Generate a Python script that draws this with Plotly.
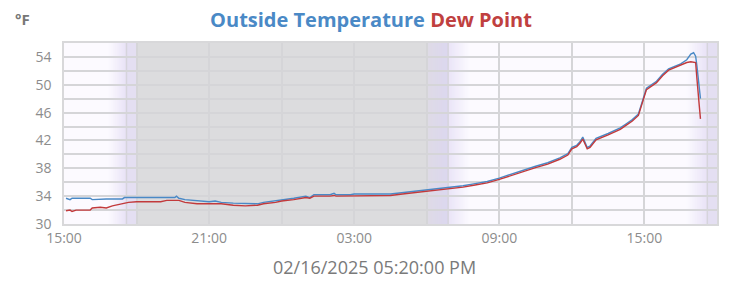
import plotly.graph_objects as go
import pandas as pd

# ---- data ----
times = [
    "2025-02-15 15:05", "2025-02-15 15:15", "2025-02-15 15:20", "2025-02-15 15:30",
    "2025-02-15 16:05", "2025-02-15 16:10", "2025-02-15 16:30", "2025-02-15 16:45",
    "2025-02-15 17:00", "2025-02-15 17:25", "2025-02-15 17:30", "2025-02-15 17:40",
    "2025-02-15 18:00", "2025-02-15 19:00", "2025-02-15 19:15", "2025-02-15 19:35",
    "2025-02-15 19:39", "2025-02-15 19:45", "2025-02-15 20:00", "2025-02-15 20:30",
    "2025-02-15 21:00", "2025-02-15 21:15", "2025-02-15 21:30", "2025-02-15 22:00",
    "2025-02-15 22:30", "2025-02-15 23:00", "2025-02-15 23:15", "2025-02-15 23:45",
    "2025-02-16 00:00", "2025-02-16 00:30", "2025-02-16 01:00", "2025-02-16 01:10",
    "2025-02-16 01:20", "2025-02-16 02:00", "2025-02-16 02:10", "2025-02-16 02:15",
    "2025-02-16 02:50", "2025-02-16 03:00", "2025-02-16 04:30", "2025-02-16 05:00",
    "2025-02-16 05:30", "2025-02-16 06:00", "2025-02-16 06:30", "2025-02-16 07:00",
    "2025-02-16 07:30", "2025-02-16 08:00", "2025-02-16 08:30", "2025-02-16 09:00",
    "2025-02-16 09:30", "2025-02-16 10:00", "2025-02-16 10:30", "2025-02-16 11:00",
    "2025-02-16 11:30", "2025-02-16 11:50", "2025-02-16 12:00", "2025-02-16 12:12",
    "2025-02-16 12:20", "2025-02-16 12:27", "2025-02-16 12:33", "2025-02-16 12:38",
    "2025-02-16 12:45", "2025-02-16 13:00",
    "2025-02-16 13:30", "2025-02-16 14:00", "2025-02-16 14:15", "2025-02-16 14:30",
    "2025-02-16 14:45", "2025-02-16 14:55", "2025-02-16 15:05", "2025-02-16 15:30",
    "2025-02-16 15:45", "2025-02-16 16:00", "2025-02-16 16:30", "2025-02-16 16:45",
    "2025-02-16 16:55", "2025-02-16 17:02", "2025-02-16 17:07", "2025-02-16 17:10",
    "2025-02-16 17:13", "2025-02-16 17:16", "2025-02-16 17:19",
]
outside_temp = [
    33.7, 33.5, 33.7, 33.7, 33.7, 33.5, 33.6, 33.6, 33.6, 33.6, 33.8, 33.8,
    33.8, 33.8, 33.8, 33.8, 34.0, 33.7, 33.5, 33.4, 33.2, 33.3, 33.1, 33.0,
    32.9, 32.9, 33.1, 33.3, 33.5, 33.7, 34.0, 33.8, 34.2, 34.2, 34.4, 34.2,
    34.2, 34.3, 34.3, 34.5, 34.7, 34.9, 35.1, 35.2, 35.5, 35.8, 36.1, 36.6,
    37.2, 37.8, 38.3, 38.8, 39.5, 40.1, 41.0, 41.3, 41.8, 42.5, 41.6, 41.0,
    41.2, 42.3,
    43.0, 43.8, 44.4, 45.0, 45.8, 47.5, 49.5, 50.5, 51.5, 52.3, 53.0, 53.6,
    54.4, 54.6, 54.1, 52.8, 51.0, 49.5, 48.0,
]
dew_point = [
    31.9, 32.0, 31.8, 32.0, 32.0, 32.3, 32.4, 32.3, 32.6, 32.9, 32.9, 33.1,
    33.2, 33.2, 33.4, 33.4, 33.4, 33.4, 33.1, 32.9, 32.9, 32.9, 32.9, 32.7,
    32.6, 32.7, 32.9, 33.1, 33.3, 33.5, 33.8, 33.7, 34.0, 34.0, 34.1, 34.0,
    34.0, 34.1, 34.1, 34.3, 34.5, 34.7, 34.9, 35.0, 35.3, 35.6, 35.9, 36.4,
    37.0, 37.6, 38.1, 38.6, 39.3, 39.9, 40.8, 41.1, 41.6, 42.2, 41.3, 40.8,
    41.0, 42.1,
    42.8, 43.6, 44.2, 44.8, 45.6, 47.3, 49.3, 50.3, 51.3, 52.1, 52.8, 53.2,
    53.3, 53.3, 53.2, 51.0, 48.5, 47.0, 45.1,
]
x_range = ["2025-02-15 15:00", "2025-02-16 18:00"]
y_range = [30, 56]
updated_label = "02/16/2025 05:20:00 PM"

# sun events (for background shading)
sunset_1 = "2025-02-15 17:35"
dusk_1 = "2025-02-15 18:00"
dawn_2 = "2025-02-16 06:00"
sunrise_2 = "2025-02-16 06:53"
sunset_2 = "2025-02-16 17:36"

BLUE = "#4a89c6"
RED = "#c23a3c"
BG = "#fcfaff"
NIGHT = "#dcdcde"
TWI = "#e4dff2"


def hex2rgb(h):
    h = h.lstrip("#")
    return tuple(int(h[i:i + 2], 16) for i in (0, 2, 4))


def mix(c0, c1, t):
    a, b = hex2rgb(c0), hex2rgb(c1)
    return "rgb(%d,%d,%d)" % tuple(round(a[i] + (b[i] - a[i]) * t) for i in range(3))


shapes = []


def rect(x0, x1, color):
    shapes.append(dict(type="rect", xref="x", yref="paper", x0=x0, x1=x1, y0=0, y1=1,
                       fillcolor=color, line=dict(width=0), layer="below"))


def gradient(x0, x1, c0, c1, n=16):
    t0, t1 = pd.Timestamp(x0), pd.Timestamp(x1)
    step = (t1 - t0) / n
    for i in range(n):
        a = t0 + step * i
        b = t0 + step * (i + 1) + (step * 0.8 if i < n - 1 else step * 0)
        rect(a, b, mix(c0, c1, (i + 0.5) / n))


gradient("2025-02-15 16:50", sunset_1, BG, "#e8e2f6")
rect(sunset_1, dusk_1, TWI)
rect(dusk_1, dawn_2, NIGHT)
gradient(dawn_2, sunrise_2, "#dedbe6", "#dcd7ef", 10)
gradient(sunrise_2, "2025-02-16 07:45", "#e9e4f7", BG)
gradient("2025-02-16 16:45", sunset_2, BG, "#e8e2f6")
rect(sunset_2, x_range[1], TWI)

for t in (sunset_1, sunrise_2, sunset_2):
    shapes.append(dict(type="line", xref="x", yref="paper", x0=t, x1=t, y0=0, y1=1,
                       line=dict(color="#d6d4dc", width=1.5), layer="below"))

fig = go.Figure()
fig.add_trace(go.Scatter(x=times, y=outside_temp, mode="lines", name="Outside Temperature",
                         line=dict(color=BLUE, width=1.4)))
fig.add_trace(go.Scatter(x=times, y=dew_point, mode="lines", name="Dew Point",
                         line=dict(color=RED, width=1.4)))

GRID = "#d5d5d8"
fig.update_layout(
    width=742, height=287,
    margin=dict(l=64, r=25, t=43, b=63),
    paper_bgcolor="white",
    plot_bgcolor=BG,
    showlegend=False,
    font=dict(family="Open Sans", color="#888"),
    title=dict(
        text=f"<span style='color:{BLUE}'>Outside Temperature</span> "
             f"<span style='color:#c0403f'>Dew Point</span>",
        x=0.5, xref="container", xanchor="center",
        y=0.932, yref="container", yanchor="middle",
        font=dict(family="Open Sans", size=20, weight=700),
    ),
    shapes=shapes,
    annotations=[
        dict(text="°F", xref="paper", yref="paper", x=-0.063, y=1.13, xanchor="center",
             yanchor="middle", showarrow=False,
             font=dict(family="Open Sans", size=15, color="#777", weight=700)),
        dict(text=updated_label, xref="paper", yref="paper", x=0.476, y=-0.235,
             xanchor="center", yanchor="middle", showarrow=False,
             font=dict(family="Open Sans", size=18, color="#7a7a7a")),
    ],
)
fig.update_xaxes(
    range=x_range, type="date",
    tick0="2025-02-15 15:00", dtick=6 * 3600 * 1000, tickformat="%H:%M",
    showgrid=True, gridcolor=GRID, gridwidth=1.5,
    minor=dict(dtick=3 * 3600 * 1000, showgrid=True, gridcolor=GRID, gridwidth=1.5),
    showline=True, mirror=True, linecolor="#d8d8da", linewidth=1.5,
    tickfont=dict(size=14, color="#8c8c8c"), ticks="", zeroline=False,
)
fig.update_yaxes(
    range=y_range, tick0=30, dtick=4,
    showgrid=True, gridcolor=GRID, gridwidth=1.5,
    minor=dict(dtick=2, showgrid=True, gridcolor=GRID, gridwidth=1.5),
    showline=True, mirror=True, linecolor="#d8d8da", linewidth=1.5,
    tickfont=dict(size=14, color="#8c8c8c"), ticks="", ticklabelstandoff=8, zeroline=False,
)

fig.write_html("out.html")
